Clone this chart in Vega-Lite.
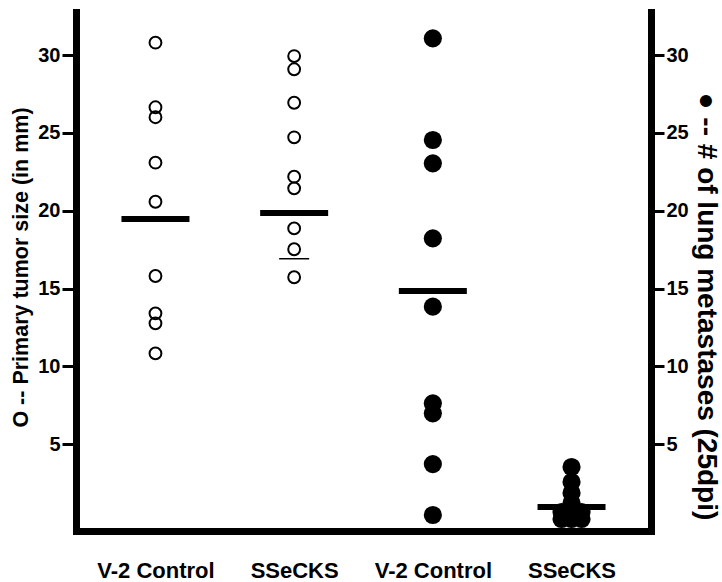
{
  "$schema": "https://vega.github.io/schema/vega-lite/v6.json",
  "width": 575,
  "height": 519,
  "autosize": {"type": "none"},
  "padding": {"left": 76, "top": 12, "right": 71, "bottom": 51},
  "background": "white",
  "config": {
    "view": {"stroke": null},
    "axis": {
      "grid": false,
      "labelFont": "Liberation Sans",
      "titleFont": "Liberation Sans",
      "labelColor": "black",
      "titleColor": "black",
      "domainColor": "black",
      "tickColor": "black",
      "domainCap": "square"
    }
  },
  "datasets": {
    "tumor": [
      {"cat": "tumor|V-2 Control", "value": 30.80},
      {"cat": "tumor|V-2 Control", "value": 26.65},
      {"cat": "tumor|V-2 Control", "value": 26.01},
      {"cat": "tumor|V-2 Control", "value": 23.09},
      {"cat": "tumor|V-2 Control", "value": 20.58},
      {"cat": "tumor|V-2 Control", "value": 15.81},
      {"cat": "tumor|V-2 Control", "value": 13.41},
      {"cat": "tumor|V-2 Control", "value": 12.77},
      {"cat": "tumor|V-2 Control", "value": 10.84},
      {"cat": "tumor|SSeCKS", "value": 29.94},
      {"cat": "tumor|SSeCKS", "value": 29.09},
      {"cat": "tumor|SSeCKS", "value": 26.94},
      {"cat": "tumor|SSeCKS", "value": 24.72},
      {"cat": "tumor|SSeCKS", "value": 22.19},
      {"cat": "tumor|SSeCKS", "value": 21.44},
      {"cat": "tumor|SSeCKS", "value": 18.87},
      {"cat": "tumor|SSeCKS", "value": 17.53},
      {"cat": "tumor|SSeCKS", "value": 15.73}
    ],
    "tumorMedian": [
      {"cat": "tumor|V-2 Control", "value": 19.47},
      {"cat": "tumor|SSeCKS", "value": 19.86}
    ],
    "tumorMinor": [
      {"cat": "tumor|SSeCKS", "value": 16.92}
    ],
    "lung": [
      {"cat": "lung|V-2 Control", "value": 31.08, "tie": 0},
      {"cat": "lung|V-2 Control", "value": 24.55, "tie": 0},
      {"cat": "lung|V-2 Control", "value": 23.05, "tie": 0},
      {"cat": "lung|V-2 Control", "value": 18.23, "tie": 0},
      {"cat": "lung|V-2 Control", "value": 13.84, "tie": 0},
      {"cat": "lung|V-2 Control", "value": 7.63, "tie": 0},
      {"cat": "lung|V-2 Control", "value": 6.99, "tie": 0},
      {"cat": "lung|V-2 Control", "value": 3.73, "tie": 0},
      {"cat": "lung|V-2 Control", "value": 0.46, "tie": 0},
      {"cat": "lung|SSeCKS", "value": 3.54, "tie": 0},
      {"cat": "lung|SSeCKS", "value": 2.58, "tie": 0},
      {"cat": "lung|SSeCKS", "value": 1.87, "tie": 0},
      {"cat": "lung|SSeCKS", "value": 1.23, "tie": 0},
      {"cat": "lung|SSeCKS", "value": 0.65, "tie": -1},
      {"cat": "lung|SSeCKS", "value": 0.65, "tie": 1},
      {"cat": "lung|SSeCKS", "value": 0.20, "tie": -1},
      {"cat": "lung|SSeCKS", "value": 0.20, "tie": 0},
      {"cat": "lung|SSeCKS", "value": 0.20, "tie": 1}
    ],
    "lungMedian": [
      {"cat": "lung|V-2 Control", "value": 14.85},
      {"cat": "lung|SSeCKS", "value": 0.97}
    ]
  },
  "encoding": {
    "x": {
      "field": "cat",
      "type": "nominal",
      "sort": ["tumor|V-2 Control", "tumor|SSeCKS", "lung|V-2 Control", "lung|SSeCKS"],
      "scale": {
        "type": "point",
        "domain": ["tumor|V-2 Control", "tumor|SSeCKS", "lung|V-2 Control", "lung|SSeCKS"],
        "padding": 0.573
      },
      "axis": {
        "title": null,
        "labelExpr": "split(datum.label, '|')[1]",
        "labelAngle": 0,
        "labelFontSize": 22,
        "labelFontWeight": "bold",
        "labelPadding": 29,
        "ticks": false,
        "domainWidth": 7
      }
    }
  },
  "layer": [
    {
      "encoding": {
        "y": {
          "field": "value",
          "type": "quantitative",
          "scale": {"domain": [-0.57, 32.77], "nice": false, "zero": false},
          "axis": {
            "orient": "left",
            "values": [5, 10, 15, 20, 25, 30],
            "title": "O --  Primary tumor size (in mm)",
            "titleFontSize": 21.5,
            "titleFontWeight": "bold",
            "titlePadding": 5,
            "titleY": 255,
            "labelFontSize": 20,
            "labelFontWeight": "bold",
            "labelPadding": 2,
            "tickSize": 14,
            "tickWidth": 3,
            "domainWidth": 7
          }
        }
      },
      "layer": [
        {
          "data": {"name": "tumor"},
          "mark": {"type": "point", "shape": "circle", "filled": false, "stroke": "black", "strokeWidth": 2, "size": 140, "opacity": 1}
        },
        {
          "data": {"name": "tumorMedian"},
          "mark": {"type": "tick", "color": "black", "size": 68, "thickness": 6, "opacity": 1}
        },
        {
          "data": {"name": "tumorMinor"},
          "mark": {"type": "tick", "color": "black", "size": 30, "thickness": 1.5, "opacity": 1}
        }
      ]
    },
    {
      "encoding": {
        "y": {
          "field": "value",
          "type": "quantitative",
          "scale": {"domain": [-0.57, 32.77], "nice": false, "zero": false},
          "axis": {
            "orient": "right",
            "values": [5, 10, 15, 20, 25, 30],
            "title": "● -- # of lung metastases (25dpi)",
            "titleFontSize": 28,
            "titleFontWeight": "bold",
            "titlePadding": 3,
            "titleY": 294,
            "labelFontSize": 20,
            "labelFontWeight": "bold",
            "labelPadding": 2,
            "tickSize": 13,
            "tickWidth": 3,
            "domainWidth": 7
          }
        }
      },
      "layer": [
        {
          "data": {"name": "lung"},
          "mark": {"type": "circle", "color": "black", "size": 330, "opacity": 1},
          "encoding": {
            "xOffset": {"field": "tie", "type": "quantitative", "scale": {"domain": [-1, 1], "range": [-10, 10]}}
          }
        },
        {
          "data": {"name": "lungMedian"},
          "mark": {"type": "tick", "color": "black", "size": 68, "thickness": 6, "opacity": 1}
        }
      ]
    }
  ],
  "resolve": {"scale": {"y": "independent"}}
}
